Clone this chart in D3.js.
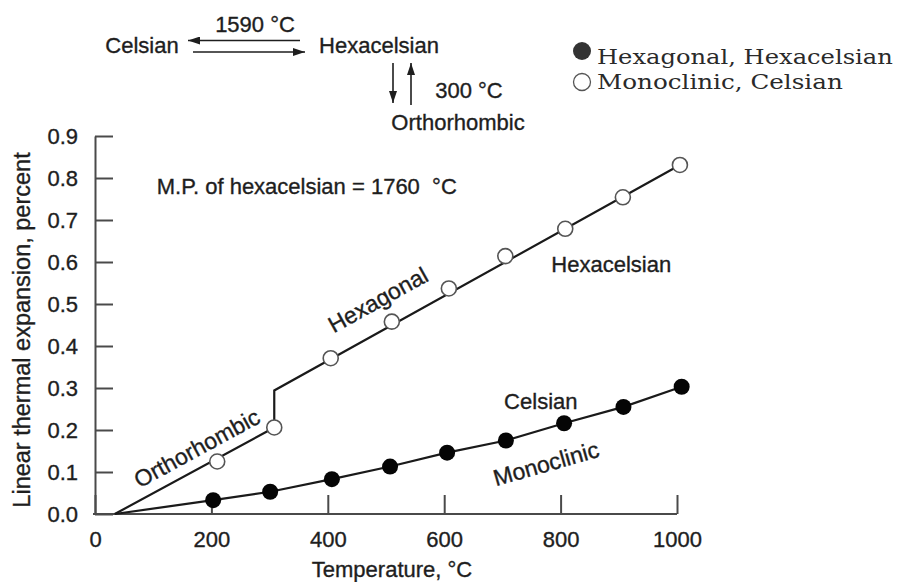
<!DOCTYPE html>
<html>
<head>
<meta charset="utf-8">
<script src="https://cdn.jsdelivr.net/npm/d3@7"></script>
<style>
  body { margin: 0; background: #fff; }
  svg { display: block; }
  text { font-family: "Liberation Sans", Arial, Helvetica, sans-serif; fill: #1e1e1e; stroke: #1e1e1e; stroke-width: 0.35px; }
  .serif { font-family: "DejaVu Serif", "Liberation Serif", serif; fill: #2a2a2a; stroke: none; }
</style>
</head>
<body>
<svg id="chart" width="906" height="582"></svg>
<script>
// thermal expansion data
var tempOpen = [210, 308, 405, 510, 608, 705, 808, 907, 1005];
var expOpen = [0.125, 0.206, 0.371, 0.458, 0.537, 0.614, 0.679, 0.754, 0.831];
var tempFilled = [203, 301, 407, 507, 605, 706, 806, 908, 1008];
var expFilled = [0.033, 0.053, 0.083, 0.113, 0.146, 0.175, 0.216, 0.255, 0.303];

// curves drawn through the points (upper one jumps at the 300 C transition)
var curveHexT = [34, 308, 308, 1005];
var curveHexV = [0, 0.206, 0.294, 0.831];
var curveCelT = [34].concat(tempFilled);
var curveCelV = [0].concat(expFilled);

var xTicks = [0, 200, 400, 600, 800, 1000];
var yTicks = [0, 0.1, 0.2, 0.3, 0.4, 0.5, 0.6, 0.7, 0.8, 0.9];

var legendLabels = ["Hexagonal, Hexacelsian", "Monoclinic, Celsian"];

var svg = d3.select("#chart");

var x = d3.scaleLinear().domain([0, 1000]).range([95, 677]);
var y = d3.scaleLinear().domain([0, 0.9]).range([514, 136]);

// axes, ticks point inward
var xAxis = d3.axisBottom(x).tickValues(xTicks).tickSizeInner(-19).tickSizeOuter(0).tickPadding(17)
    .tickFormat(d3.format("d"));
var yAxis = d3.axisLeft(y).tickValues(yTicks).tickSizeInner(-18).tickSizeOuter(0).tickPadding(17)
    .tickFormat(d3.format(".1f"));

var gx = svg.append("g").attr("transform", "translate(0," + y(0) + ")").call(xAxis);
var gy = svg.append("g").attr("transform", "translate(" + x(0) + ",0)").call(yAxis);

[gx, gy].forEach(function (g) {
    g.select(".domain").attr("stroke", "#4a4a4a").attr("stroke-width", 2);
    g.selectAll(".tick line").attr("stroke", "#4a4a4a").attr("stroke-width", 2);
    g.selectAll(".tick text").attr("font-size", 22).attr("fill", "#1e1e1e")
        .attr("font-family", "Liberation Sans, Arial, sans-serif");
});
gx.select(".domain").attr("d", "M" + (x(0) - 2) + ",0H" + x(1000));

svg.append("text")
    .attr("x", 392).attr("y", 577)
    .attr("text-anchor", "middle").attr("font-size", 22)
    .text("Temperature, \u00B0C");

svg.append("text")
    .attr("transform", "translate(30,330) rotate(-90)")
    .attr("text-anchor", "middle").attr("font-size", 23.5)
    .text("Linear thermal expansion, percent");

// curves
var line = d3.line().x(function (d) { return x(d[0]); }).y(function (d) { return y(d[1]); });

svg.append("path")
    .datum(d3.zip(curveHexT, curveHexV))
    .attr("d", line).attr("fill", "none")
    .attr("stroke", "#1a1a1a").attr("stroke-width", 2.2);

svg.append("path")
    .datum(d3.zip(curveCelT, curveCelV))
    .attr("d", line).attr("fill", "none")
    .attr("stroke", "#1a1a1a").attr("stroke-width", 2.2);

svg.selectAll("circle.open")
    .data(d3.zip(tempOpen, expOpen))
    .enter().append("circle")
    .attr("class", "open")
    .attr("cx", function (d) { return x(d[0]); })
    .attr("cy", function (d) { return y(d[1]); })
    .attr("r", 7.5)
    .attr("fill", "#fff").attr("stroke", "#555").attr("stroke-width", 1.6);

svg.selectAll("circle.filled")
    .data(d3.zip(tempFilled, expFilled))
    .enter().append("circle")
    .attr("class", "filled")
    .attr("cx", function (d) { return x(d[0]); })
    .attr("cy", function (d) { return y(d[1]); })
    .attr("r", 8)
    .attr("fill", "#050505");

// labels inside the plot, placed in data units
var notes = [
    { t: 106, v: 0.762, a: 0, anchor: "start", size: 22, text: "M.P. of hexacelsian = 1760  \u00B0C" },
    { t: 486, v: 0.51, a: -29, anchor: "middle", size: 23, text: "Hexagonal" },
    { t: 887, v: 0.576, a: 0, anchor: "middle", size: 22, text: "Hexacelsian" },
    { t: 766, v: 0.25, a: 0, anchor: "middle", size: 22, text: "Celsian" },
    { t: 775, v: 0.12, a: -16, anchor: "middle", size: 23, text: "Monoclinic" },
    { t: 175, v: 0.157, a: -28.5, anchor: "middle", size: 23, text: "Orthorhombic" }
];
svg.selectAll("text.note")
    .data(notes)
    .enter().append("text")
    .attr("class", "note")
    .attr("transform", function (d) {
        return "translate(" + x(d.t) + "," + y(d.v) + ") rotate(" + d.a + ")";
    })
    .attr("dy", function (d) { return d.a ? "0.35em" : 0; })
    .attr("text-anchor", function (d) { return d.anchor; })
    .attr("font-size", function (d) { return d.size; })
    .style("white-space", "pre")
    .text(function (d) { return d.text; });

// transformation scheme at the top
var defs = svg.append("defs");
defs.append("marker")
    .attr("id", "head").attr("viewBox", "0 0 12 8")
    .attr("refX", 12).attr("refY", 4)
    .attr("markerWidth", 12).attr("markerHeight", 8)
    .attr("markerUnits", "userSpaceOnUse")
    .attr("orient", "auto")
    .append("path").attr("d", "M0,0L12,4L0,8Z").attr("fill", "#1e1e1e");

var arrows = [[300, 40.5, 188, 40.5], [193, 52, 305, 52], [393, 63, 393, 103], [411, 105, 411, 63]];
svg.selectAll("line.arrow")
    .data(arrows)
    .enter().append("line")
    .attr("class", "arrow")
    .attr("x1", function (d) { return d[0]; }).attr("y1", function (d) { return d[1]; })
    .attr("x2", function (d) { return d[2]; }).attr("y2", function (d) { return d[3]; })
    .attr("stroke", "#1e1e1e").attr("stroke-width", 1.6)
    .attr("marker-end", "url(#head)");

var scheme = [
    [142, 53, "Celsian"], [379, 53, "Hexacelsian"], [255, 32, "1590 \u00B0C"],
    [469, 98, "300 \u00B0C"], [458, 130, "Orthorhombic"]
];
svg.selectAll("text.scheme")
    .data(scheme)
    .enter().append("text")
    .attr("class", "scheme")
    .attr("x", function (d) { return d[0]; }).attr("y", function (d) { return d[1]; })
    .attr("text-anchor", "middle").attr("font-size", 22)
    .text(function (d) { return d[2]; });

// legend
var lg = svg.append("g").attr("transform", "translate(582,51)");
lg.append("circle").attr("cx", 0).attr("cy", 0).attr("r", 9).attr("fill", "#333");
lg.append("circle").attr("cx", 0).attr("cy", 31).attr("r", 8.5)
    .attr("fill", "#fff").attr("stroke", "#555").attr("stroke-width", 1.3);
var legendWidths = [296, 246];
lg.selectAll("text")
    .data(legendLabels)
    .enter().append("text")
    .attr("class", "serif")
    .attr("font-size", 21)
    .text(function (d) { return d; })
    .attr("transform", function (d, i) {
        var w = this.getComputedTextLength();
        return "translate(15," + (12.5 + i * 25.5) + ") scale(" + (legendWidths[i] / w) + ",1)";
    });
</script>
</body>
</html>
